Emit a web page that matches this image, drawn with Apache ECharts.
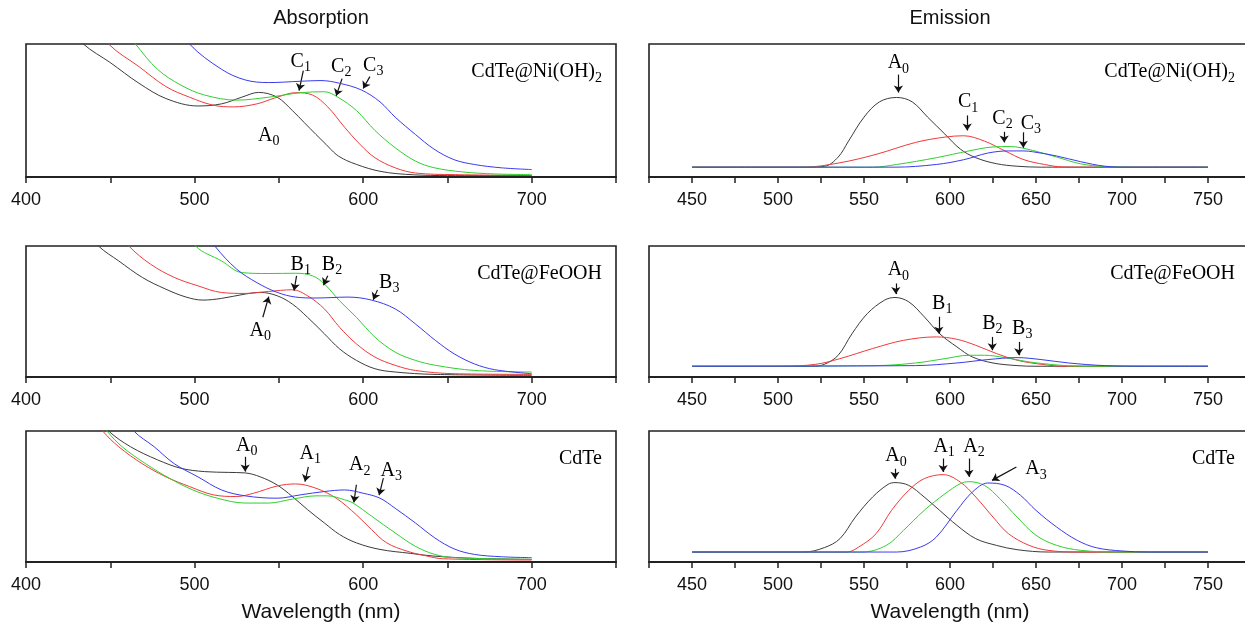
<!DOCTYPE html>
<html><head><meta charset="utf-8">
<script src="https://cdn.jsdelivr.net/npm/echarts@6/dist/echarts.min.js"></script>
<style>html,body{margin:0;padding:0;background:#fff}#c{width:1245px;height:628px}</style>
</head><body><div id="c"></div><script>
// ---------------- DATA ----------------
const absTickLabels = [400, 500, 600, 700];
const emTickLabels = [450, 500, 550, 600, 650, 700, 750];

// Absorption CdTe@Ni(OH)2
const absNi_A0 = [[420,1.2],[434,1.0],[450,0.86],[467,0.705],[483,0.59],[502,0.534],[516,0.55],[528,0.60],[538,0.636],[549,0.60],[558,0.50],[565,0.41],[572,0.32],[578,0.245],[584,0.17],[590,0.125],[596,0.095],[603,0.065],[610,0.043],[620,0.025],[640,0.012],[660,0.01],[700,0.01]];
const absNi_C1 = [[435,1.25],[449,1.0],[467,0.83],[483,0.68],[497,0.60],[511,0.54],[523,0.527],[537,0.55],[549,0.60],[560,0.634],[570,0.616],[579,0.527],[589,0.374],[598,0.247],[607,0.145],[619,0.069],[631,0.03],[654,0.018],[700,0.012]];
const absNi_C2 = [[450,1.25],[465,1.0],[478,0.81],[492,0.69],[506,0.616],[525,0.578],[544,0.60],[563,0.634],[577,0.641],[585,0.60],[596,0.50],[607,0.35],[619,0.22],[631,0.12],[642,0.07],[659,0.038],[678,0.023],[700,0.018]];
const absNi_C3 = [[480,1.3],[497,1.0],[516,0.81],[530,0.73],[544,0.71],[563,0.72],[575,0.725],[586,0.705],[599,0.654],[610,0.565],[619,0.45],[631,0.32],[642,0.21],[654,0.13],[666,0.094],[682,0.069],[700,0.056]];
// Emission CdTe@Ni(OH)2
const emNi_A0 = [[450,0.074],[515,0.074],[527,0.08],[535,0.15],[541,0.27],[550,0.45],[559,0.565],[569,0.598],[578,0.565],[587,0.45],[597,0.323],[606,0.21],[615,0.145],[627,0.10],[639,0.081],[653,0.074],[750,0.074]];
const emNi_C1 = [[450,0.074],[515,0.074],[536,0.107],[557,0.17],[580,0.26],[597,0.30],[608,0.31],[620,0.27],[632,0.196],[643,0.13],[655,0.094],[665,0.076],[680,0.074],[750,0.074]];
const emNi_C2 = [[450,0.074],[555,0.074],[569,0.094],[592,0.145],[611,0.196],[625,0.226],[635,0.229],[648,0.20],[662,0.15],[676,0.099],[690,0.079],[711,0.074],[750,0.074]];
const emNi_C3 = [[450,0.074],[568,0.074],[592,0.094],[608,0.13],[622,0.18],[634,0.196],[643,0.196],[648,0.19],[662,0.158],[676,0.115],[690,0.081],[704,0.074],[750,0.074]];
// Absorption CdTe@FeOOH
const absFe_A0 = [[430,1.2],[443,1.0],[455,0.886],[469,0.76],[483,0.67],[495,0.61],[505,0.587],[516,0.60],[530,0.633],[539,0.646],[549,0.62],[558,0.557],[567,0.456],[577,0.33],[586,0.215],[596,0.127],[607,0.063],[619,0.038],[642,0.02],[700,0.013]];
const absFe_B1 = [[445,1.25],[461,1.0],[474,0.86],[488,0.76],[502,0.696],[516,0.645],[530,0.638],[544,0.653],[558,0.666],[567,0.62],[577,0.52],[586,0.38],[596,0.253],[607,0.152],[619,0.089],[631,0.05],[654,0.025],[700,0.02]];
const absFe_B2 = [[485,1.3],[500.6,1.0],[516,0.886],[528,0.797],[544,0.79],[560,0.792],[570,0.772],[577,0.71],[586,0.582],[596,0.456],[607,0.304],[619,0.19],[631,0.127],[643,0.089],[666,0.05],[700,0.038]];
const absFe_B3 = [[495,1.3],[512,1.0],[525,0.823],[537,0.72],[549,0.646],[560,0.61],[572,0.603],[591,0.61],[605,0.587],[619,0.52],[631,0.405],[643,0.278],[654,0.177],[666,0.10],[678,0.056],[700,0.025]];
// Emission CdTe@FeOOH
const emFe_A0 = [[450,0.082],[520,0.082],[527,0.097],[535,0.166],[543,0.33],[552,0.485],[562,0.587],[568,0.607],[576,0.574],[585,0.46],[594,0.33],[604,0.23],[613,0.153],[625,0.107],[639,0.087],[650,0.082],[750,0.082]];
const emFe_B1 = [[450,0.082],[503,0.082],[522,0.097],[536,0.14],[555,0.217],[573,0.28],[592,0.306],[604,0.288],[615,0.242],[627,0.179],[639,0.128],[653,0.097],[667,0.082],[750,0.082]];
const emFe_B2 = [[450,0.082],[557,0.087],[580,0.107],[597,0.14],[611,0.166],[620,0.166],[632,0.148],[646,0.115],[662,0.092],[676,0.082],[750,0.082]];
const emFe_B3 = [[450,0.082],[580,0.087],[604,0.107],[622,0.133],[639,0.148],[653,0.133],[669,0.107],[690,0.087],[713,0.082],[750,0.082]];
// Absorption CdTe
const absCd_A0 = [[435,1.2],[449,1.0],[462,0.88],[478,0.78],[492,0.715],[506,0.69],[520,0.684],[530,0.68],[539,0.65],[549,0.588],[558,0.50],[567,0.40],[577,0.298],[586,0.21],[596,0.146],[610,0.096],[628,0.066],[642,0.045],[666,0.028],[700,0.02]];
const absCd_A1 = [[430,1.25],[445.5,1.0],[455,0.88],[469,0.75],[483,0.65],[497,0.576],[511,0.513],[525,0.50],[535,0.525],[549,0.58],[560,0.596],[572,0.563],[584,0.487],[596,0.36],[605,0.247],[614,0.146],[626,0.083],[638,0.045],[647,0.025],[700,0.015]];
const absCd_A2 = [[433,1.25],[448,1.0],[457,0.88],[471,0.75],[485,0.64],[499,0.55],[513.5,0.487],[530,0.45],[544,0.45],[558,0.48],[572,0.505],[579,0.505],[589,0.475],[594,0.45],[605,0.35],[619,0.222],[631,0.12],[642.5,0.058],[654,0.033],[700,0.02]];
const absCd_A3 = [[450,1.25],[464,1.0],[476,0.88],[488,0.75],[502,0.65],[516,0.55],[530,0.505],[549,0.487],[563,0.513],[577,0.538],[589,0.55],[600,0.525],[610,0.487],[619,0.41],[631,0.298],[642.5,0.184],[654,0.10],[666,0.058],[682,0.04],[700,0.033]];
// Emission CdTe
const emCd_A0 = [[450,0.076],[515,0.076],[527,0.11],[536,0.178],[545,0.343],[555,0.496],[564,0.593],[568,0.606],[576,0.585],[585,0.496],[594,0.394],[604,0.28],[615,0.178],[627,0.127],[639,0.094],[657,0.076],[750,0.076]];
const emCd_A1 = [[450,0.076],[540,0.076],[547,0.115],[557,0.216],[566,0.394],[576,0.547],[585,0.636],[596,0.667],[606,0.61],[615,0.496],[625,0.343],[634,0.216],[646,0.127],[657,0.089],[674,0.076],[750,0.076]];
const emCd_A2 = [[450,0.076],[549,0.076],[563,0.127],[573,0.242],[585,0.394],[597,0.52],[606,0.598],[611,0.613],[620,0.585],[629,0.483],[639,0.343],[650,0.204],[662,0.127],[676,0.089],[697,0.076],[750,0.076]];
const emCd_A3 = [[450,0.076],[569,0.076],[583,0.115],[592,0.19],[604,0.394],[613,0.534],[622,0.603],[632,0.585],[641,0.509],[650,0.394],[662,0.267],[674,0.165],[685,0.109],[700,0.084],[716,0.076],[750,0.076]];

// Annotations (data coordinates): label, subscript, text centre, arrow tail, arrow tip
const absNiMarks = [
  {t:'C', s:'1', text:[563,0.87], tail:[564.5,0.80], tip:[562,0.65]},
  {t:'C', s:'2', text:[587,0.83], tail:[587.5,0.74], tip:[584,0.61]},
  {t:'C', s:'3', text:[606,0.84], tail:[604,0.755], tip:[600,0.665]},
  {t:'A', s:'0', text:[544,0.31]}
];
const emNiMarks = [
  {t:'A', s:'0', text:[570,0.857], tail:[570,0.77], tip:[570,0.635]},
  {t:'C', s:'1', text:[610.5,0.565], tail:[610,0.463], tip:[610,0.35]},
  {t:'C', s:'2', text:[630.5,0.44], tail:[631.5,0.34], tip:[631.5,0.26]},
  {t:'C', s:'3', text:[647,0.40], tail:[642.6,0.336], tip:[642.6,0.22]}
];
const absFeMarks = [
  {t:'A', s:'0', text:[539,0.354], tail:[540.5,0.456], tip:[544,0.613]},
  {t:'B', s:'1', text:[563,0.86], tail:[560.5,0.772], tip:[559,0.66]},
  {t:'B', s:'2', text:[581.5,0.86], tail:[579,0.772], tip:[576.5,0.70]},
  {t:'B', s:'3', text:[615.5,0.72], tail:[608.5,0.665], tip:[606,0.59]}
];
const emFeMarks = [
  {t:'A', s:'0', text:[570,0.816], tail:[568.5,0.714], tip:[568.5,0.633]},
  {t:'B', s:'1', text:[595.5,0.56], tail:[593.5,0.46], tip:[593.5,0.33]},
  {t:'B', s:'2', text:[624.6,0.408], tail:[624.6,0.306], tip:[624.6,0.204]},
  {t:'B', s:'3', text:[642,0.37], tail:[640,0.268], tip:[640,0.166]}
];
const absCdMarks = [
  {t:'A', s:'0', text:[531,0.89], tail:[530,0.803], tip:[530,0.69]},
  {t:'A', s:'1', text:[568.6,0.83], tail:[567.5,0.727], tip:[565.5,0.614]},
  {t:'A', s:'2', text:[598,0.74], tail:[596,0.59], tip:[594.5,0.455]},
  {t:'A', s:'3', text:[616.7,0.70], tail:[612,0.64], tip:[609.5,0.51]}
];
const emCdMarks = [
  {t:'A', s:'0', text:[568.6,0.81], tail:[568,0.712], tip:[568,0.636]},
  {t:'A', s:'1', text:[596.6,0.88], tail:[596,0.79], tip:[596,0.687]},
  {t:'A', s:'2', text:[614,0.88], tail:[611,0.79], tip:[611,0.65]},
  {t:'A', s:'3', text:[650,0.71], tail:[638.6,0.725], tip:[624.4,0.623]}
];

const panelLabels = [['CdTe@Ni(OH)','2'], ['CdTe@FeOOH',''], ['CdTe','']];

// ---------------- LAYOUT / STYLE ----------------
const COLORS = ['#3c3c3c', '#f03a3a', '#2fd02f', '#3a3aee'];
const ROW_TOP = [44, 246, 431], ROW_H = [133, 131, 131];
const COL_LEFT = [26, 649], COL_W = [590, 602];
const RICH = {
  m: {fontFamily: 'Liberation Serif', fontSize: 20, color: '#000', lineHeight: 26},
  s: {fontFamily: 'Liberation Serif', fontSize: 14, color: '#000', lineHeight: 14, verticalAlign: 'bottom'}
};

const panels = [
  {row:0, col:0, data:[absNi_A0, absNi_C1, absNi_C2, absNi_C3], marks:absNiMarks},
  {row:0, col:1, data:[emNi_A0, emNi_C1, emNi_C2, emNi_C3], marks:emNiMarks},
  {row:1, col:0, data:[absFe_A0, absFe_B1, absFe_B2, absFe_B3], marks:absFeMarks},
  {row:1, col:1, data:[emFe_A0, emFe_B1, emFe_B2, emFe_B3], marks:emFeMarks},
  {row:2, col:0, data:[absCd_A0, absCd_A1, absCd_A2, absCd_A3], marks:absCdMarks},
  {row:2, col:1, data:[emCd_A0, emCd_A1, emCd_A2, emCd_A3], marks:emCdMarks}
];

const grids = [], xAxes = [], yAxes = [], series = [], graphics = [];
panels.forEach((p, i) => {
  grids.push({
    left: COL_LEFT[p.col], width: COL_W[p.col], top: ROW_TOP[p.row], height: ROW_H[p.row],
    show: true, borderColor: '#222', borderWidth: 1.6, backgroundColor: 'transparent',
    containLabel: false, outerBoundsMode: 'none'
  });
  const isAbs = p.col === 0;
  const ticks = isAbs ? absTickLabels : emTickLabels;
  xAxes.push({
    gridIndex: i, type: 'value',
    min: isAbs ? 400 : 425, max: isAbs ? 750 : 775, interval: isAbs ? 50 : 25,
    axisLine: {show: true, onZero: false, lineStyle: {color: '#222', width: 2}},
    axisTick: {show: true, inside: false, length: 6, lineStyle: {color: '#222', width: 1.5}},
    axisLabel: {
      show: true, margin: 14, fontSize: 18, color: '#111', fontFamily: 'Liberation Sans',
      showMinLabel: true, showMaxLabel: true, hideOverlap: false,
      formatter: v => ticks.indexOf(v) >= 0 ? String(v) : ''
    },
    splitLine: {show: false},
    name: p.row === 2 ? 'Wavelength (nm)' : '',
    nameLocation: 'middle', nameGap: 40,
    nameTextStyle: {fontSize: 21, color: '#111', fontFamily: 'Liberation Sans'}
  });
  yAxes.push({gridIndex: i, type: 'value', min: 0, max: 1, show: false});
  p.data.forEach((d, k) => {
    const s = {
      type: 'line', xAxisIndex: i, yAxisIndex: i, data: d,
      showSymbol: false, symbol: 'none', smooth: 0.35, clip: true,
      lineStyle: {color: COLORS[k], width: 1}, itemStyle: {color: COLORS[k]},
      silent: true, animation: false, z: 2 + k
    };
    if (k === 0) {
      s.markLine = {
        silent: true, animation: false,
        symbol: ['none', 'arrow'], symbolSize: 7,
        lineStyle: {color: '#111', width: 1.2, type: 'solid'},
        label: {show: false}, emphasis: {disabled: true},
        data: p.marks.filter(m => m.tail).map(m => [{coord: m.tail}, {coord: m.tip}])
      };
      s.markPoint = {
        silent: true, animation: false,
        symbol: 'circle', symbolSize: 1,
        itemStyle: {color: 'rgba(0,0,0,0)'},
        label: {show: true, position: 'inside', rich: RICH},
        data: p.marks.map(m => ({coord: m.text, label: {show: true, position: 'inside', rich: RICH, formatter: '{m|' + m.t + '}{s|' + m.s + '}'}}))
      };
    }
    series.push(s);
  });
  const lab = panelLabels[p.row];
  graphics.push({
    type: 'text',
    x: p.col === 0 ? 602 : 1235,
    y: ROW_TOP[p.row] + 28,
    style: {
      text: '{m|' + lab[0] + '}' + (lab[1] ? '{s|' + lab[1] + '}' : ''),
      rich: RICH, align: 'right', verticalAlign: 'middle'
    }
  });
});

graphics.push({type: 'text', x: 321, y: 18, style: {text: 'Absorption', font: '20px "Liberation Sans"', fill: '#111', align: 'center', verticalAlign: 'middle'}});
graphics.push({type: 'text', x: 950, y: 18, style: {text: 'Emission', font: '20px "Liberation Sans"', fill: '#111', align: 'center', verticalAlign: 'middle'}});

const chart = echarts.init(document.getElementById('c'), null, {renderer: 'canvas'});
chart.setOption({
  animation: false,
  backgroundColor: '#fff',
  grid: grids, xAxis: xAxes, yAxis: yAxes, series: series, graphic: graphics
});
</script></body></html>
